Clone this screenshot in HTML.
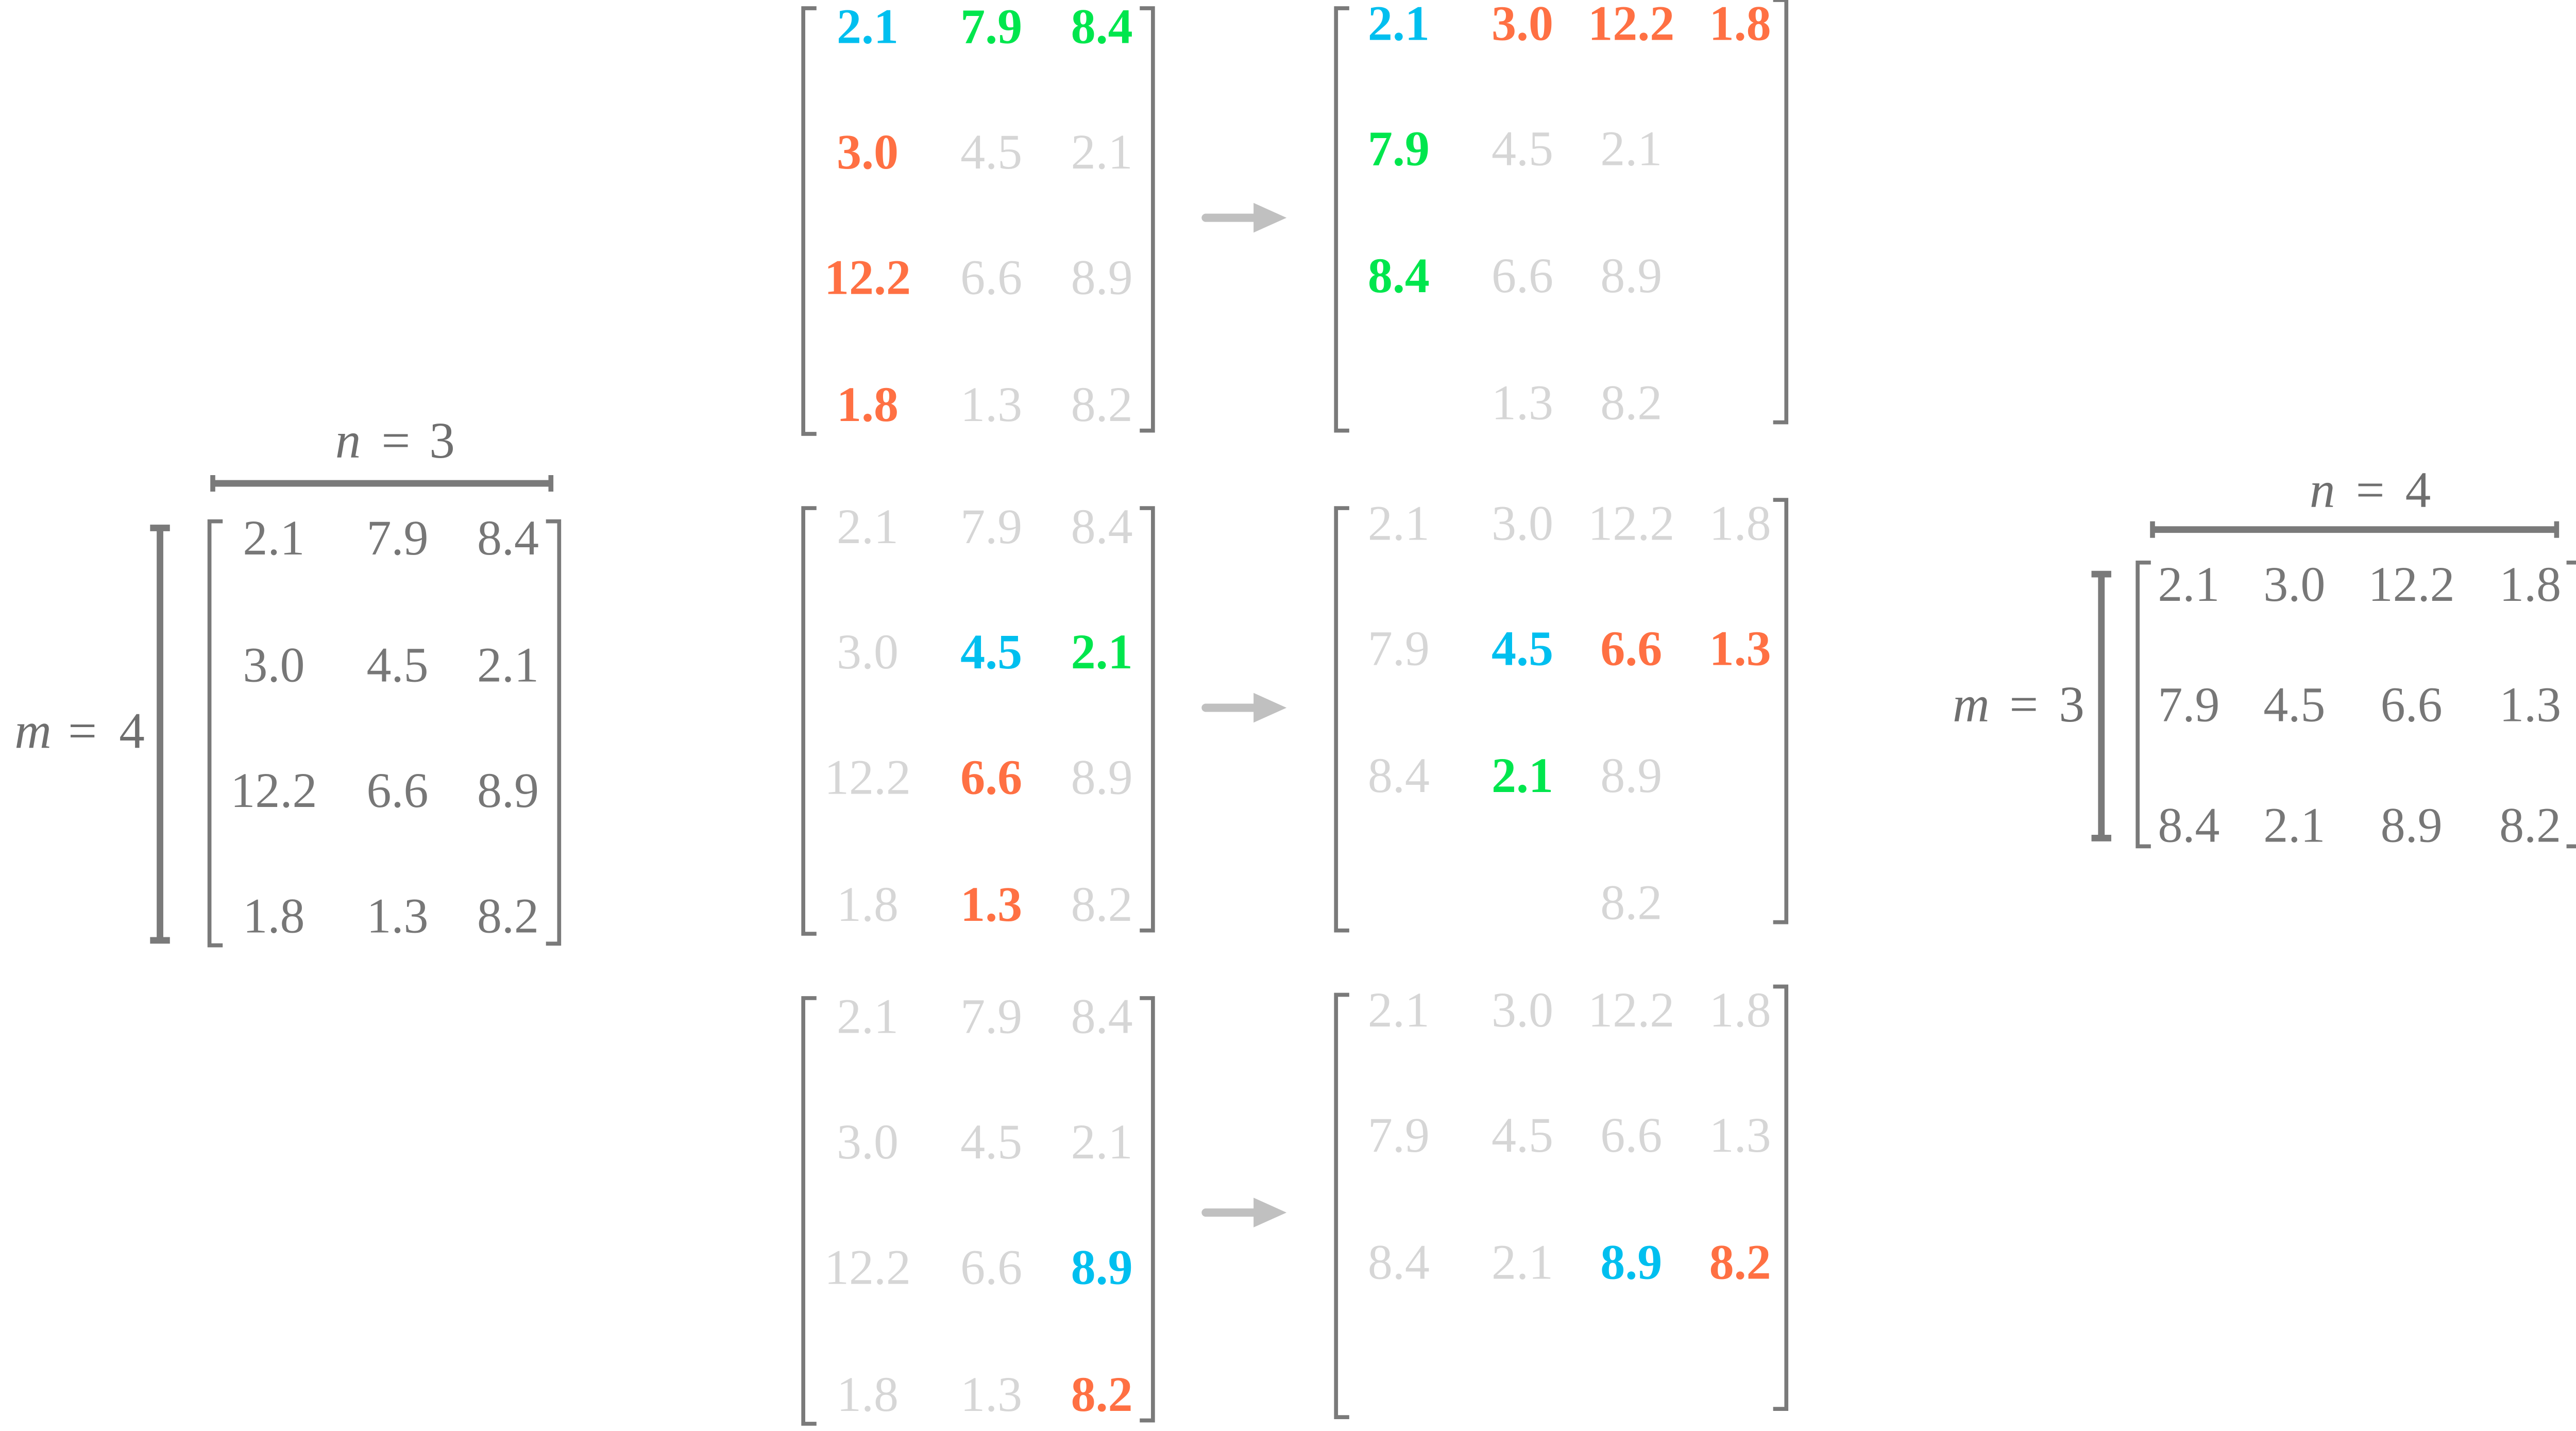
<!DOCTYPE html>
<html><head><meta charset="utf-8"><style>
html,body{margin:0;padding:0;background:#fff;}
svg{display:block;}
text{font-family:"Liberation Serif",serif;}
</style></head>
<body>
<svg id="fig" width="5020" height="2777" viewBox="0 0 1568 867.4" preserveAspectRatio="none" xmlns="http://www.w3.org/2000/svg"><g id="root" transform="translate(-2,-2)"></g></svg>
<script>
// source matrix values (4x3)
const srcValues = [[2.1,7.9,8.4],[3.0,4.5,2.1],[12.2,6.6,8.9],[1.8,1.3,8.2]];
// result matrix values (3x4)
const resValues = [[2.1,3.0,12.2,1.8],[7.9,4.5,6.6,1.3],[8.4,2.1,8.9,8.2]];
// highlight maps for step matrices: "" = light gray, b = blue, g = green, o = orange
const stepSrcColors = [
 [["b","g","g"],["o","",""],["o","",""],["o","",""]],
 [["","",""],["","b","g"],["","o",""],["","o",""]],
 [["","",""],["","",""],["","","b"],["","","o"]]
];
const stepResColors = [
 [["b","o","o","o"],["g","","",""],["g","","",""],["","","",""]],
 [["","","",""],["","b","o","o"],["","g","",""],["","","",""]],
 [["","","",""],["","","",""],["","","b","o"],["","","",""]]
];
const stepResValues = [[2.1,3.0,12.2,1.8],[7.9,4.5,2.1,""],[8.4,6.6,8.9,""],["",1.3,8.2,""]];
const stepResValues2 = [[2.1,3.0,12.2,1.8],[7.9,4.5,6.6,1.3],[8.4,2.1,8.9,""],["","",8.2,""]];
const stepResValues3 = [[2.1,3.0,12.2,1.8],[7.9,4.5,6.6,1.3],[8.4,2.1,8.9,8.2],["","","",""]];

const svg = document.getElementById('root');
const NS = "http://www.w3.org/2000/svg";
const COL = {"":"#d6d6d6",b:"#00bfef",g:"#00e64d",o:"#ff7043",d:"#777777"};
function mk(tag, attrs, parent){const e=document.createElementNS(NS,tag);for(const k in attrs)e.setAttribute(k,attrs[k]);(parent||svg).appendChild(e);return e;}

function bracket(g,x1,x2,yl1,yl2,yr1,yr2){
  const p=mk('path',{d:`M${x1+8},${yl1} H${x1} V${yl2} H${x1+8} M${x2-8},${yr1} H${x2} V${yr2} H${x2-8}`,fill:'none',stroke:'#7a7a7a','stroke-width':2.4},g);
  
  
}
function cells(g,vals,colors,xs,ys,name){
  vals.forEach((row,r)=>row.forEach((v,c)=>{
    if(v==="")return;
    const key=colors?colors[r][c]:"d";
    const t=mk('text',{x:xs[c],y:ys[r],'text-anchor':'middle','dominant-baseline':'central','font-size':30,fill:COL[key]||'#d6d6d6','font-weight':(key==='b'||key==='g'||key==='o')?'bold':'normal'},g);
    
    
    t.textContent=Number(v).toFixed(1);
  }));
}
function dimBar(g,x1,y1,x2,y2,vertical){
  const l=mk('line',{x1,y1,x2,y2,stroke:'#7a7a7a','stroke-width':4},g);
  
  
  if(vertical){
    mk('line',{x1:x1-6,y1:y1,x2:x1+6,y2:y1,stroke:'#7a7a7a','stroke-width':4},g);
    mk('line',{x1:x2-6,y1:y2,x2:x2+6,y2:y2,stroke:'#7a7a7a','stroke-width':4},g);
  } else {
    mk('line',{x1:x1,y1:y1-5,x2:x1,y2:y1+5,stroke:'#7a7a7a','stroke-width':3},g);
    mk('line',{x1:x2,y1:y2-5,x2:x2,y2:y2+5,stroke:'#7a7a7a','stroke-width':3},g);
  }
}
function label(g,xv,xe,xn,y,v,val,name){
  const t=mk('text',{y,'dominant-baseline':'central','font-size':31,fill:'#6f6f6f'},g);
  
  
  const a=mk('tspan',{x:xv,'font-style':'italic','text-anchor':'middle'},t);a.textContent=v;
  const b=mk('tspan',{x:xe,'text-anchor':'middle'},t);b.textContent='=';
  const c=mk('tspan',{x:xn,'text-anchor':'middle'},t);c.textContent=val;
}

// source matrix
let g=mk('g',{});


bracket(g,129,341,318,575,318,574);
cells(g,srcValues,null,[168,243,310],[328,405,481,557],'source');
dimBar(g,99,322,99,572,true);
dimBar(g,131,295,336,295,false);
label(g,213,242,270,269,'n',srcValues[0].length,'n-label-source');
label(g,22,52,82,445,'m',srcValues.length,'m-label-source');

// step matrices
const stepTops=[0,303,600];
const resVals=[stepResValues,stepResValues2,stepResValues3];
stepTops.forEach((dy,i)=>{
  const gs=mk('g',{});
  
  
  bracket(gs,489,701,7+dy,265+dy,7+dy,263+dy);
  cells(gs,srcValues,stepSrcColors[i],[528,603,670],[18+dy,94+dy,170+dy,247+dy],'step-source');
  const ga=mk('g',{});
  
  
  const ay=[134,431,737][i];
  mk('line',{x1:733,y1:ay,x2:764,y2:ay,stroke:'#c0c0c0','stroke-width':5,'stroke-linecap':'round'},ga);
  mk('polygon',{points:`${762},${ay-9} ${782},${ay} ${762},${ay+9}`,fill:'#c0c0c0'},ga);
  const gr=mk('g',{});
  
  
  const rdy=[0,303,598][i];
  bracket(gr,812,1085,7+rdy,263+rdy,2+rdy,258+rdy);
  cells(gr,resVals[i],stepResColors[i],[850,925,991,1057],[16+rdy,92+rdy,169+rdy,246+rdy],'step-result');
});

// result matrix
g=mk('g',{});


bracket(g,1298,1566,343,515,343,515);
cells(g,resValues,null,[1329,1393,1464,1536],[356,429,502],'result');
dimBar(g,1276,350,1276,510,true);
dimBar(g,1307,323,1552,323,false);
label(g,1410,1439,1468,299,'n',resValues[0].length,'n-label-result');
label(g,1197,1229,1258,429,'m',resValues.length,'m-label-result');
</script>
</body></html>
